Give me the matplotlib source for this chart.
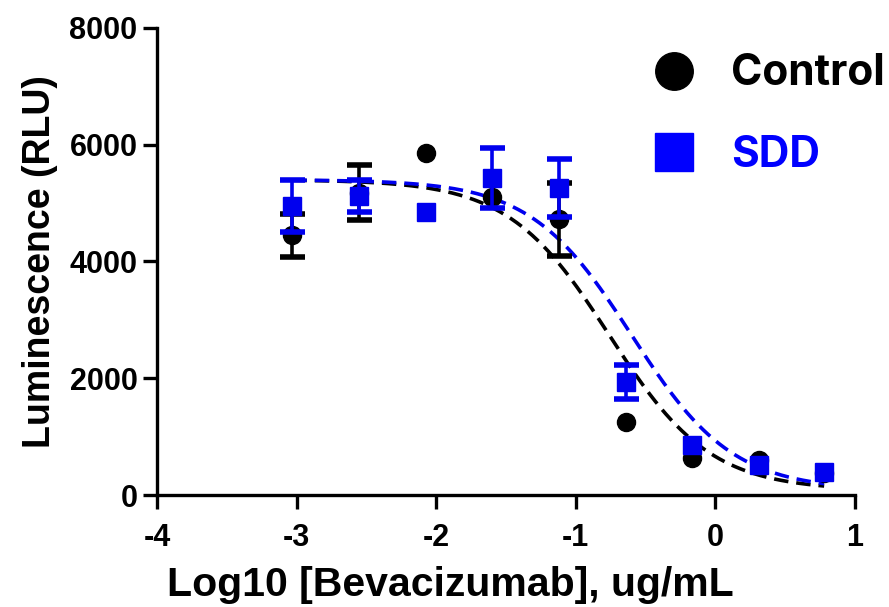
import numpy as np
import matplotlib
matplotlib.use("Agg")
import matplotlib.pyplot as plt
from matplotlib.lines import Line2D

plt.rcParams['font.family'] = ['Liberation Sans', 'DejaVu Sans']
plt.rcParams['font.weight'] = 'bold'
plt.rcParams['axes.unicode_minus'] = False

# log10 dose (ug/mL)
log_dose = [-3.03, -2.55, -2.07, -1.60, -1.12, -0.64, -0.17, 0.31, 0.78]

ctrl_mean = [4450, 5180, 5850, 5100, 4720, 1250, 630, 600, 380]
ctrl_err = [370, 470, np.nan, np.nan, 630, np.nan, np.nan, np.nan, np.nan]
sdd_mean = [4950, 5120, 4850, 5430, 5260, 1940, 850, 520, 400]
sdd_err = [450, 270, np.nan, 520, 500, 290, np.nan, np.nan, np.nan]

# 4PL fit parameters: top, bottom, logIC50, hill
ctrl_fit = (5400, 80, -0.76, 1.2)
sdd_fit = (5400, 80, -0.60, 1.2)

BLUE = '#0000ee'


def four_pl(x, top, bottom, logic50, hill):
    return bottom + (top - bottom) / (1 + 10 ** ((x - logic50) * hill))


fig = plt.figure(figsize=(8.89, 6.07), dpi=100)
ax = fig.add_axes([0.1766, 0.1845, 0.785, 0.7695])

xx = np.linspace(min(log_dose), max(log_dose), 300)
ax.plot(xx, four_pl(xx, *ctrl_fit), color='black', lw=2.6, ls=(0, (4, 2.2)), zorder=2)
ax.plot(xx, four_pl(xx, *sdd_fit), color=BLUE, lw=2.6, ls=(0, (4, 2.2)), zorder=3)

ax.errorbar(log_dose, ctrl_mean, yerr=ctrl_err, fmt='o', color='black', ms=13,
            elinewidth=2.6, capsize=9, capthick=4, zorder=4)
ax.errorbar(log_dose, sdd_mean, yerr=sdd_err, fmt='s', color=BLUE, ms=13,
            elinewidth=2.6, capsize=9, capthick=4, zorder=5)

ax.set_xlim(-4, 1)
ax.set_ylim(0, 8000)
ax.set_xticks([-4, -3, -2, -1, 0, 1])
ax.set_yticks([0, 2000, 4000, 6000, 8000])
for s in ['top', 'right']:
    ax.spines[s].set_visible(False)
for s in ['left', 'bottom']:
    ax.spines[s].set_linewidth(2.4)
ax.tick_params(width=2.4, length=10, labelsize=22, pad=4)
ax.tick_params(axis='x', pad=10)
for lab in ax.get_xticklabels() + ax.get_yticklabels():
    lab.set_fontweight('bold')

ax.set_xlabel('Log10 [Bevacizumab], ug/mL', fontsize=29.5, fontweight='bold')
ax.xaxis.set_label_coords(0.421, -0.153)
ax.set_ylabel('Luminescence (RLU)', fontsize=27, fontweight='bold', labelpad=8)

handles = [Line2D([], [], ls='none', marker='o', color='black', ms=27),
           Line2D([], [], ls='none', marker='s', color='#0000ff', ms=27)]
leg = ax.legend(handles, ['Control', 'SDD'], loc='upper left',
                bbox_to_anchor=(0.711, 0.947), bbox_transform=fig.transFigure,
                frameon=False, handletextpad=0.83, labelspacing=0.95,
                prop={'family': 'Inter', 'weight': 'bold', 'size': 30.5},
                labelcolor=['black', '#0000ff'], borderpad=0, handlelength=1.0)

fig.savefig('out.png', dpi=100)
